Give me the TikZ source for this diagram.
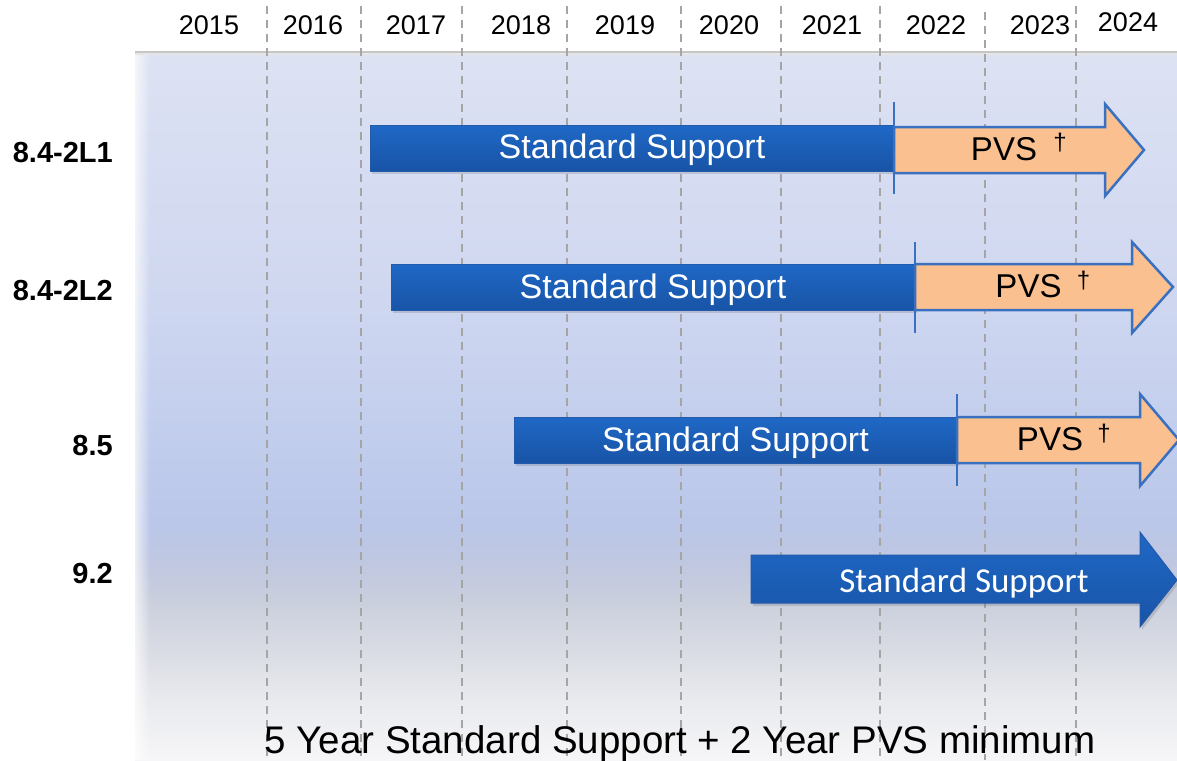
\documentclass[tikz,border=0pt]{standalone}
\usepackage{fontspec}
\setmainfont{Liberation Sans}
\newfontfamily\calfont{Carlito}
\usepackage{tikz}
\usetikzlibrary{fadings}
\usepackage{xcolor}

\definecolor{bartop}{RGB}{31,104,198}
\definecolor{barbot}{RGB}{24,84,166}
\definecolor{barline}{RGB}{36,90,170}
\definecolor{pvsfill}{RGB}{250,192,144}
\definecolor{pvsline}{RGB}{58,112,192}
\definecolor{gridgray}{RGB}{165,165,165}
\definecolor{pc0}{RGB}{246,246,248}
\definecolor{pc1}{RGB}{233,234,238}
\definecolor{pc2}{RGB}{214,217,226}
\definecolor{pc3}{RGB}{202,207,221}
\definecolor{pc4}{RGB}{191,199,225}
\definecolor{pc5}{RGB}{186,199,233}
\definecolor{pc6}{RGB}{197,208,238}
\definecolor{pc7}{RGB}{207,215,240}
\definecolor{pc8}{RGB}{221,226,243}

\pgfdeclareverticalshading{panelshade}{100bp}{color(0bp)=(pc0); color(25bp)=(pc0);
  color(29.2bp)=(pc1); color(33.5bp)=(pc2); color(36.3bp)=(pc3); color(39.1bp)=(pc4);
  color(41.9bp)=(pc5); color(50.4bp)=(pc6); color(57.5bp)=(pc7); color(75bp)=(pc8);
  color(100bp)=(pc8)}

\tikzset{
  yearline/.style={gridgray,line width=2pt,dash pattern=on 8pt off 6pt},
  year/.style={font=\fontsize{27}{32}\selectfont,inner sep=0pt},
  rowlabel/.style={font=\bfseries\fontsize{29}{34}\selectfont,anchor=base east,inner sep=0pt},
  bartext/.style={font=\fontsize{34}{40}\selectfont,text=white,anchor=base,inner sep=0pt},
  pvstext/.style={font=\fontsize{33}{38}\selectfont,anchor=base,inner sep=0pt},
  dagtext/.style={font=\fontsize{24}{28}\selectfont,inner sep=0pt},
  bluebar/.style={top color=bartop,bottom color=barbot,draw=barline,line width=1pt},
  barshadow/.style={fill=black,opacity=.12},
  pvsarrow/.style={fill=pvsfill,draw=pvsline,line width=2.5pt,line join=miter},
  divider/.style={pvsline,line width=2.5pt}
}

\begin{document}
\begin{tikzpicture}[x=1pt,y=-1pt]
\useasboundingbox (0,0) rectangle (1177,760);
\fill[white] (0,0) rectangle (1177,760);
% panel behind the bars
\shade[shading=panelshade] (135,52) rectangle (1177,760);
\fill[white,path fading=east,opacity=.7] (135,52) rectangle (150,760);
\draw[gray!45,line width=2pt] (135,52)--(1177,52);
\draw[gray!20,line width=2pt] (135,54.5)--(1177,54.5);

% year lines
\draw[yearline] (267,6)--(267,760);
\draw[yearline] (361,6)--(361,760);
\draw[yearline] (462,6)--(462,760);
\draw[yearline] (567,6)--(567,760);
\draw[yearline] (681,6)--(681,760);
\draw[yearline] (781,6)--(781,760);
\draw[yearline] (880,6)--(880,760);
\draw[yearline] (985,12)--(985,760);
\draw[yearline] (1076,6)--(1076,760);

% years
\node[year] (y15) at (209,25) {2015};
\node[year] (y16) at (313,25) {2016};
\node[year] (y17) at (416,25) {2017};
\node[year] (y18) at (521,25) {2018};
\node[year] (y19) at (625,25) {2019};
\node[year] (y20) at (729,25) {2020};
\node[year] (y21) at (832,25) {2021};
\node[year] (y22) at (936,25) {2022};
\node[year] (y23) at (1040,25) {2023};
\node[year] (y24) at (1128,22) {2024};

% releases
\node[rowlabel] (rel1) at (113,162) {8.4-2L1};
\node[rowlabel] (rel2) at (113,300) {8.4-2L2};
\node[rowlabel] (rel3) at (113,455) {8.5};
\node[rowlabel] (rel4) at (113,583) {9.2};

% 8.4-2L1
\fill[barshadow] (372,128) rectangle (896,174);
\shade[bluebar] (370,125) rectangle (894,171);
\draw[pvsarrow] (894,127)--(1105,127)--(1105,104)--(1144,150)--(1105,196)--(1105,173)--(894,173)--cycle;
\draw[divider] (894,102)--(894,194);
\node[bartext] (std1) at (632,158) {Standard Support};
\node[pvstext] (pvs1) at (1004,160) {PVS};
\node[dagtext] (dag1) at (1060,143) {†};

% 8.4-2L2
\fill[barshadow] (393,267) rectangle (917,313);
\shade[bluebar] (391,264) rectangle (915,310);
\draw[pvsarrow] (915,264)--(1132,264)--(1132,242)--(1173,287)--(1132,333)--(1132,310)--(915,310)--cycle;
\draw[divider] (915,242)--(915,333);
\node[bartext] (std2) at (653,298) {Standard Support};
\node[pvstext] (pvs2) at (1028.5,297) {PVS};
\node[dagtext] (dag2) at (1083.5,281) {†};

% 8.5
\fill[barshadow] (516,420) rectangle (959,466);
\shade[bluebar] (514,417) rectangle (957,463);
\draw[pvsarrow] (957,417)--(1140,417)--(1140,394)--(1179,440)--(1140,486)--(1140,463)--(957,463)--cycle;
\draw[divider] (957,394)--(957,486);
\node[bartext] (std3) at (735.5,451) {Standard Support};
\node[pvstext] (pvs3) at (1050,450) {PVS};
\node[dagtext] (dag3) at (1104,434) {†};

% 9.2
\fill[barshadow] (753,558)--(1142,558)--(1142,535)--(1179,583)--(1142,630)--(1142,606)--(753,606)--cycle;
\shade[bluebar] (751,555)--(1140,555)--(1140,532)--(1177,580)--(1140,627)--(1140,603)--(751,603)--cycle;
\node[bartext,font=\calfont\fontsize{35}{40}\selectfont] (std4) at (964,592) {Standard Support};

\node[font=\fontsize{38.5}{46}\selectfont,anchor=base,inner sep=0pt] (note) at (680,753) {5 Year Standard Support + 2 Year PVS minimum};
\end{tikzpicture}
\end{document}
